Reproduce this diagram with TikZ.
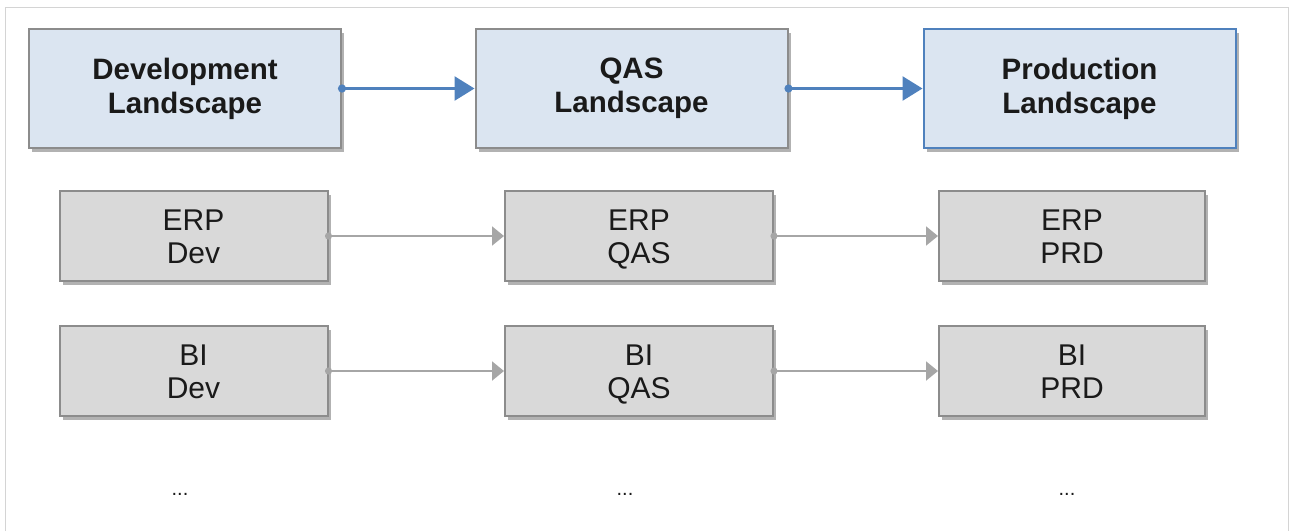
\documentclass[tikz,border=0pt]{standalone}
\usepackage{fontspec}
\setmainfont{Liberation Sans}
\usetikzlibrary{arrows.meta,shadows}
\definecolor{lblue}{HTML}{DBE5F1}
\definecolor{bblue}{HTML}{4F81BD}
\definecolor{gbox}{HTML}{D9D9D9}
\definecolor{gborder}{HTML}{8C8C8C}
\definecolor{garrow}{HTML}{A6A6A6}
\definecolor{frame}{HTML}{D4D4D4}
\definecolor{txt}{HTML}{1A1A1A}
\newcommand{\topfix}{\rule{0pt}{28.5pt}}
\tikzset{
  shadowed/.style={drop shadow={shadow xshift=3pt,shadow yshift=-4pt,fill=black,opacity=0.3}},
  landbox/.style={shadowed,draw=gborder,line width=2pt,fill=lblue,minimum width=312pt,minimum height=119pt,inner sep=0pt,align=center,text=txt,font=\fontsize{29.5}{34}\selectfont\bfseries},
  sysbox/.style={shadowed,draw=gborder,line width=2pt,fill=gbox,minimum width=268pt,minimum height=90pt,inner sep=0pt,align=center,text=txt,font=\fontsize{30}{33}\selectfont},
  bluearrow/.style={draw=bblue,line width=2.6pt,{Circle[length=8pt]}-{Triangle[length=20pt,width=24pt]},shorten <=-4pt},
  grayarrow/.style={draw=garrow,line width=2pt,{Circle[length=7pt]}-{Triangle[length=12pt,width=19pt]},shorten <=-3.5pt},
  dotsnode/.style={font=\fontsize{20}{24}\selectfont,text=txt}
}
\begin{document}
\begin{tikzpicture}[x=1pt,y=-1pt]
\useasboundingbox (0,0) rectangle (1293,531);
\draw[frame,line width=1.5pt] (5.5,531) -- (5.5,7.5) -- (1288.5,7.5) -- (1288.5,531);
% top row
\node[landbox] (dev) at (185,88.5) {Development\\Landscape};
\node[landbox] (qas) at (631.5,88.5) {QAS\\Landscape};
\node[landbox,draw=bblue] (prd) at (1079.5,88.5) {Production\\Landscape};
% ERP row
\node[sysbox] (erpdev) at (193.5,236) {\topfix ERP\\Dev\vphantom{Q}};
\node[sysbox] (erpqas) at (639,236) {\topfix ERP\\QAS};
\node[sysbox,minimum width=266pt] (erpprd) at (1072,236) {\topfix ERP\\PRD\vphantom{Q}};
% BI row
\node[sysbox] (bidev) at (193.5,371) {\topfix BI\\Dev\vphantom{Q}};
\node[sysbox] (biqas) at (639,371) {\topfix BI\\QAS};
\node[sysbox,minimum width=266pt] (biprd) at (1072,371) {\topfix BI\\PRD\vphantom{Q}};
% dots
\node[dotsnode] (d1) at (180,494) {...};
\node[dotsnode] (d2) at (625,494) {...};
\node[dotsnode] (d3) at (1067,494) {...};
% arrows
\draw[bluearrow] (dev.east) -- (qas.west);
\draw[bluearrow] (qas.east) -- (prd.west);
\draw[grayarrow] (erpdev.east) -- (erpqas.west);
\draw[grayarrow] (erpqas.east) -- (erpprd.west);
\draw[grayarrow] (bidev.east) -- (biqas.west);
\draw[grayarrow] (biqas.east) -- (biprd.west);
\end{tikzpicture}
\end{document}
